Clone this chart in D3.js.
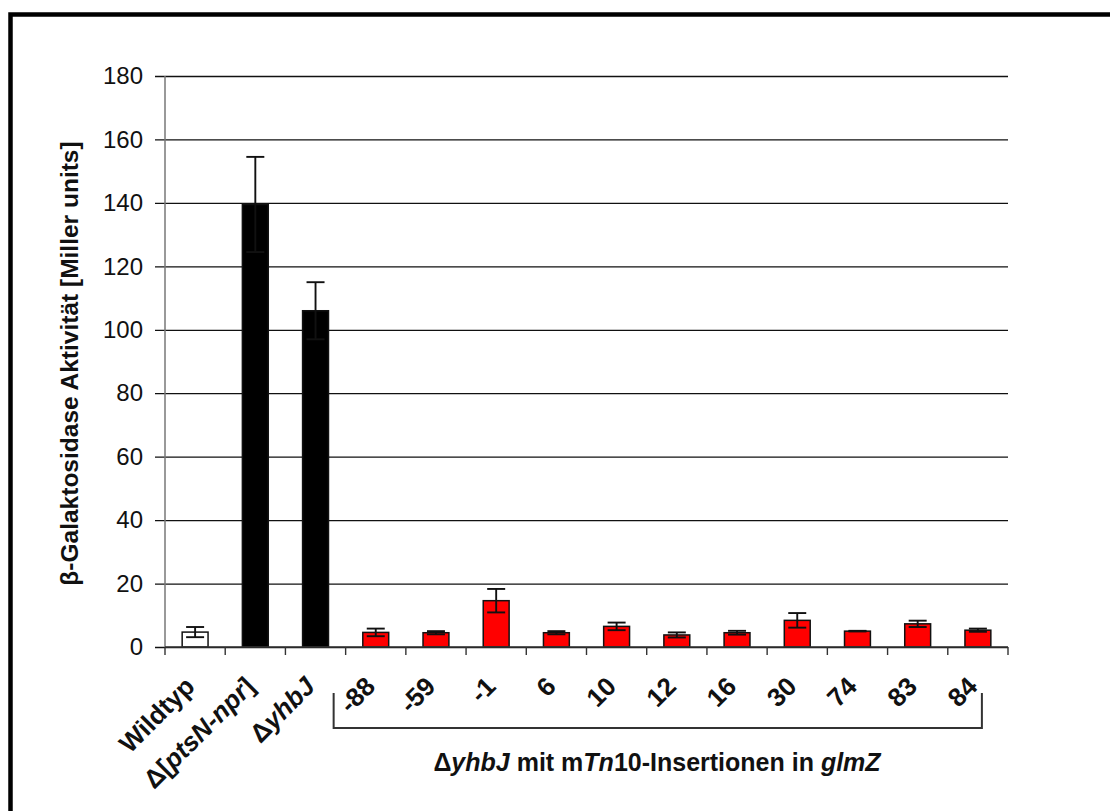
<!DOCTYPE html>
<html>
<head>
<meta charset="utf-8">
<script src="https://cdn.jsdelivr.net/npm/d3@7"></script>
<style>
  html, body { margin: 0; padding: 0; background: #fff; }
  svg { display: block; }
  text { font-family: Arial, "Liberation Sans", sans-serif; }
</style>
</head>
<body>
<svg id="chart" width="1110" height="811"></svg>
<script>
// Strain / insertion categories along the x axis
const categories = ["wt", "ptsN", "yhbJ", "-88", "-59", "-1", "6", "10", "12", "16", "30", "74", "83", "84"];
// Label pieces: [text, italic]
const tickLabels = [
  [["Wildtyp", false]],
  [["\u0394[", false], ["ptsN-npr", true], ["]", false]],
  [["\u0394", false], ["yhbJ", true]],
  [["-88", false]], [["-59", false]], [["-1", false]], [["6", false]], [["10", false]],
  [["12", false]], [["16", false]], [["30", false]], [["74", false]], [["83", false]], [["84", false]]
];
// Mean β-galactosidase activity (Miller units) and standard deviation
const activity = [4.7, 139.5, 106, 4.6, 4.5, 14.6, 4.5, 6.5, 3.8, 4.5, 8.4, 5.0, 7.3, 5.3];
const deviation = [1.6, 15, 9, 1.2, 0.5, 3.7, 0.5, 1.2, 0.8, 0.6, 2.3, 0.1, 1.0, 0.5];
// Bar fill group: 0 = wild type, 1 = deletion controls, 2 = glmZ insertions
const group = [0, 1, 1, 2, 2, 2, 2, 2, 2, 2, 2, 2, 2, 2];
const groupFill = ["#ffffff", "#000000", "#ff0000"];
const yTicks = [0, 20, 40, 60, 80, 100, 120, 140, 160, 180];

const svg = d3.select("#chart");

// Frame (top and left edges visible)
svg.append("rect")
  .attr("x", 10.5).attr("y", 14.5)
  .attr("width", 1200).attr("height", 900)
  .attr("fill", "none").attr("stroke", "#000").attr("stroke-width", 4.5);

const plotL = 165, plotR = 1008, plotT = 76, plotB = 647;

const x = d3.scaleBand().domain(categories).range([plotL, plotR]).padding(0);
const y = d3.scaleLinear().domain([0, 180]).range([plotB, plotT]);

// Horizontal gridlines with outward ticks
const yAxis = svg.append("g")
  .attr("transform", `translate(${plotL},0)`)
  .call(d3.axisLeft(y).tickValues(yTicks).tickSize(-(plotR - plotL)).tickSizeOuter(0).tickPadding(12));
yAxis.select(".domain").remove();
yAxis.selectAll(".tick line")
  .attr("x1", -10)
  .attr("stroke", "#111").attr("stroke-width", 1.3);
yAxis.selectAll(".tick text")
  .attr("x", -22)
  .attr("font-size", 24).attr("fill", "#111")
  .style("font-family", "Arial, 'Liberation Sans', sans-serif");

// Vertical axis line
svg.append("line")
  .attr("x1", plotL).attr("x2", plotL)
  .attr("y1", plotT).attr("y2", plotB)
  .attr("stroke", "#777").attr("stroke-width", 1.5);

// Bars
const barW = x.bandwidth() * 0.43;
const bars = svg.append("g");
categories.forEach((c, i) => {
  const cx = x(c) + x.bandwidth() / 2;
  bars.append("rect")
    .attr("x", cx - barW / 2)
    .attr("y", y(activity[i]))
    .attr("width", barW)
    .attr("height", y(0) - y(activity[i]))
    .attr("fill", groupFill[group[i]])
    .attr("stroke", "#111")
    .attr("stroke-width", 1.5);
});

// Error bars (mean ± SD)
const capW = 18;
const errs = svg.append("g").attr("stroke", "#111").attr("stroke-width", 1.9);
categories.forEach((c, i) => {
  const cx = x(c) + x.bandwidth() / 2;
  const hi = y(activity[i] + deviation[i]);
  const lo = y(activity[i] - deviation[i]);
  errs.append("line").attr("x1", cx).attr("x2", cx).attr("y1", hi).attr("y2", lo);
  errs.append("line").attr("x1", cx - capW / 2).attr("x2", cx + capW / 2).attr("y1", hi).attr("y2", hi);
  errs.append("line").attr("x1", cx - capW / 2).attr("x2", cx + capW / 2).attr("y1", lo).attr("y2", lo);
});

// X axis line with ticks between categories
const xAxis = svg.append("g");
xAxis.append("line")
  .attr("x1", plotL).attr("x2", plotR)
  .attr("y1", plotB).attr("y2", plotB)
  .attr("stroke", "#333").attr("stroke-width", 1.6);
categories.concat([null]).forEach((c) => {
  const tx = c === null ? plotR : x(c);
  xAxis.append("line")
    .attr("x1", tx).attr("x2", tx)
    .attr("y1", plotB).attr("y2", plotB + 8)
    .attr("stroke", "#333").attr("stroke-width", 1.4);
});

// Rotated category labels
categories.forEach((c, i) => {
  const cx = x(c) + x.bandwidth() / 2 + 1;
  const t = svg.append("text")
    .attr("transform", `translate(${cx},${688}) rotate(-45)`)
    .attr("text-anchor", "end")
    .attr("font-size", 26)
    .attr("font-weight", "bold")
    .attr("fill", "#111");
  tickLabels[i].forEach(([s, it]) => {
    t.append("tspan").text(s).attr("font-style", it ? "italic" : "normal");
  });
});

// Bracket under the insertion mutants
const b0 = x("-88"), b1 = x("84") + x.bandwidth() / 2 + 2;
svg.append("path")
  .attr("d", `M${b0 - 12},693 V728 H${b1 + 2} V693`)
  .attr("fill", "none").attr("stroke", "#333").attr("stroke-width", 2);

// Group caption
const cap = svg.append("text")
  .attr("x", 657).attr("y", 771)
  .attr("text-anchor", "middle")
  .attr("font-size", 25).attr("font-weight", "bold").attr("fill", "#111");
[["\u0394", false], ["yhbJ", true], [" mit m", false], ["Tn", true], ["10-Insertionen in ", false], ["glmZ", true]]
  .forEach(([s, it]) => cap.append("tspan").text(s).attr("font-style", it ? "italic" : "normal"));

// Y axis title
svg.append("text")
  .attr("transform", `translate(78,${(plotT + plotB) / 2 + 2}) rotate(-90)`)
  .attr("text-anchor", "middle")
  .attr("font-size", 24.5).attr("font-weight", "bold").attr("fill", "#111")
  .text("\u03b2-Galaktosidase Aktivit\u00e4t  [Miller units]");
</script>
</body>
</html>
